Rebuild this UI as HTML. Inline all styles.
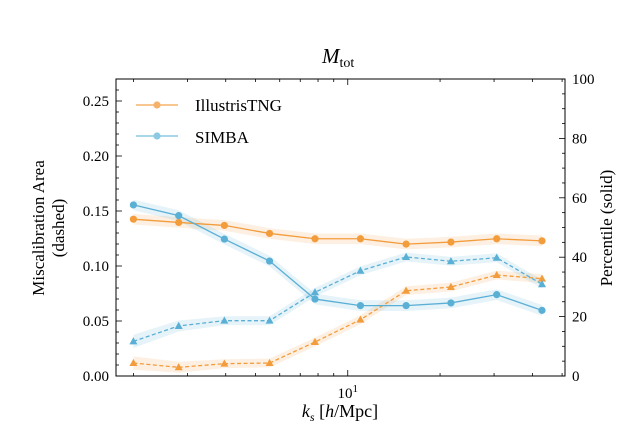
<!DOCTYPE html>
<html><head><meta charset="utf-8"><style>
body{margin:0;background:#fff;}
svg{display:block;font-family:"Liberation Serif",serif;}
</style></head><body>
<svg id="chart" width="628" height="436" xmlns="http://www.w3.org/2000/svg"></svg>
<script>
const kValues=[2.0,2.81,3.96,5.56,7.82,11.0,15.5,21.7,30.6,43.0];
const tngPercentile=[52.8,51.7,50.7,48.0,46.2,46.2,44.4,45.1,46.2,45.5];
const simbaPercentile=[57.6,54.0,46.1,38.7,25.9,23.7,23.7,24.6,27.4,22.1];
const tngArea=[0.0118,0.0079,0.0112,0.0118,0.0309,0.0512,0.0775,0.0809,0.0918,0.0885];
const simbaArea=[0.0315,0.0455,0.0503,0.0503,0.0761,0.0957,0.1082,0.1043,0.1075,0.0834];
const areaBand=[0.006,0.005,0.004,0.004,0.004,0.004,0.004,0.004,0.004,0.004];
const pctBand=[1.8,1.8,1.8,1.8,1.8,1.8,1.8,1.8,1.8,1.8];
const leftTicks=[0,0.05,0.10,0.15,0.20,0.25];
const leftTickLabels=["0.00","0.05","0.10","0.15","0.20","0.25"];
const rightTicks=[0,20,40,60,80,100];

const svg=document.getElementById('chart');
const NS='http://www.w3.org/2000/svg';
const L=116,R=565,T=79,B=376;
const xmin=Math.log10(1.755),xmax=Math.log10(51.1);
const X=k=>L+(Math.log10(k)-xmin)/(xmax-xmin)*(R-L);
const YA=v=>B-v/0.27*(B-T);
const YP=v=>B-v/100*(B-T);
function el(tag,attrs,parent){const e=document.createElementNS(NS,tag);for(const a in attrs)e.setAttribute(a,attrs[a]);(parent||svg).appendChild(e);return e;}
const ORG='#f39c3c',BLU='#5aafd5';

function band(vals,err,Y,color,name){
  let top=vals.map((v,i)=>X(kValues[i])+','+Y(v+err[i]));
  let bot=vals.map((v,i)=>X(kValues[i])+','+Y(v-err[i])).reverse();
  const p=el('polygon',{points:top.concat(bot).join(' '),fill:color,'fill-opacity':0.15,stroke:'none'});
  
  
}
function series(vals,Y,color,dashed,marker,name){
  const g=el('g',{});
  
  
  el('polyline',{points:vals.map((v,i)=>X(kValues[i])+','+Y(v)).join(' '),fill:'none',stroke:color,'stroke-width':1.3,'stroke-dasharray':dashed?'4,2.5':'none'},g);
  vals.forEach((v,i)=>{
    const x=X(kValues[i]),y=Y(v);
    let m;
    if(marker==='o')m=el('circle',{cx:x,cy:y,r:3.6,fill:color},g);
    else m=el('polygon',{points:`${x},${y-4.2} ${x-4},${y+3} ${x+4},${y+3}`,fill:color},g);
    
    
  });
}
band(tngPercentile,pctBand,YP,ORG,'tng-percentile-band');
band(simbaPercentile,pctBand,YP,BLU,'simba-percentile-band');
band(tngArea,areaBand,YA,ORG,'tng-area-band');
band(simbaArea,areaBand,YA,BLU,'simba-area-band');
series(tngArea,YA,ORG,true,'^','tng-area-line');
series(simbaArea,YA,BLU,true,'^','simba-area-line');
series(tngPercentile,YP,ORG,false,'o','tng-percentile-line');
series(simbaPercentile,YP,BLU,false,'o','simba-percentile-line');

// frame
const fr=el('rect',{x:L,y:T,width:R-L,height:B-T,fill:'none',stroke:'#000','stroke-width':1});


// x ticks
for(let d=1;d<=100;d*=10)for(let m=1;m<10;m++){
  const k=d*m;if(k<1.755||k>51.1)continue;const x=X(k);const len=m===1?6:3;
  el('line',{x1:x,y1:B,x2:x,y2:B-len,stroke:'#000','stroke-width':0.8});
  el('line',{x1:x,y1:T,x2:x,y2:T+len,stroke:'#000','stroke-width':0.8});
}
const xt=el('text',{x:X(10),y:B+22,'text-anchor':'middle','font-size':15});
xt.innerHTML='10<tspan dy="-6" font-size="11">1</tspan>';


// left ticks
for(let v=0;v<=0.27;v+=0.01){const y=YA(v);const major=Math.abs(v*20-Math.round(v*20))<1e-6;
  el('line',{x1:L,y1:y,x2:L+(major?6:3),y2:y,stroke:'#000','stroke-width':0.8});}
leftTicks.forEach((v,i)=>{const t=el('text',{x:L-7,y:YA(v)+5,'text-anchor':'end','font-size':15});t.textContent=leftTickLabels[i];
  });
// right ticks
for(let v=0;v<=100;v+=5){const y=YP(v);const major=v%20===0;
  el('line',{x1:R,y1:y,x2:R-(major?6:3),y2:y,stroke:'#000','stroke-width':0.8});}
rightTicks.forEach(v=>{const t=el('text',{x:R+7,y:YP(v)+5,'font-size':15});t.textContent=String(v);
  });
</script>
<svg width="628" height="436" style="position:absolute;left:0;top:0;font-family:'Liberation Serif',serif" xmlns="http://www.w3.org/2000/svg">
<text x="322" y="63" font-size="21" font-style="italic">M<tspan font-style="normal" font-size="14" dy="4">tot</tspan></text>
<text x="340" y="417" text-anchor="middle" font-size="18"><tspan font-style="italic">k</tspan><tspan font-style="italic" font-size="12" dy="4">s</tspan><tspan dy="-4"> [</tspan><tspan font-style="italic">h</tspan>/Mpc]</text>
<text transform="translate(44,228) rotate(-90)" text-anchor="middle" font-size="17">Miscalibration Area</text>
<text transform="translate(64,228) rotate(-90)" text-anchor="middle" font-size="17">(dashed)</text>
<text transform="translate(612,228) rotate(-90)" text-anchor="middle" font-size="17">Percentile (solid)</text>
<g>
<g>
<line x1="136" y1="105" x2="178" y2="105" stroke="#f5b36a" stroke-width="1.5"/><circle cx="157" cy="105" r="3.6" fill="#f5b36a"/>
<text x="195" y="111" font-size="17">IllustrisTNG</text></g>
<g>
<line x1="136" y1="136" x2="178" y2="136" stroke="#8ccae4" stroke-width="1.5"/><circle cx="157" cy="136" r="3.6" fill="#8ccae4"/>
<text x="195" y="143" font-size="17">SIMBA</text></g>
</g>
</svg>
</body></html>
